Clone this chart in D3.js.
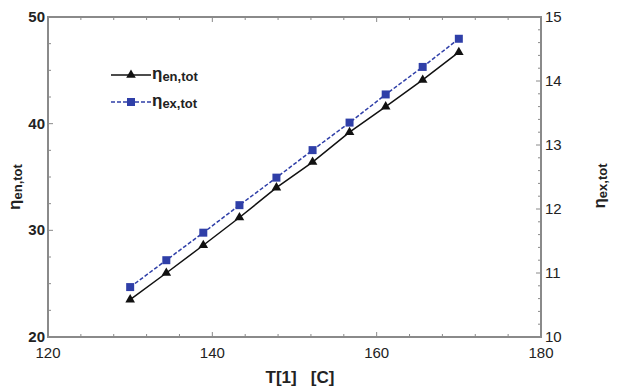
<!DOCTYPE html>
<html>
<head>
<meta charset="utf-8">
<script src="https://cdn.jsdelivr.net/npm/d3@7"></script>
<style>
  body { margin: 0; background: #fff; }
  svg { font-family: "Liberation Sans", Arial, sans-serif; }
</style>
</head>
<body>
<div id="chart"></div>
<script>
// T[1] values and the two efficiency series
const temps = [130, 134.4, 138.9, 143.3, 147.8, 152.2, 156.7, 161.1, 165.6, 170];
const etaEn = [23.5, 26.0, 28.6, 31.2, 34.0, 36.4, 39.2, 41.6, 44.1, 46.7];
const etaEx = [10.78, 11.2, 11.63, 12.06, 12.49, 12.92, 13.35, 13.79, 14.22, 14.66];

const xTicks = [120, 140, 160, 180];
const yLeftTicks = [20, 30, 40, 50];
const yRightTicks = [10, 11, 12, 13, 14, 15];

const W = 617, H = 392;
const plot = { left: 48, right: 541, top: 17, bottom: 337 };
const axisColor = "#8a8a8a";
const blue = "#2f3fa8";

const svg = d3.select("#chart").append("svg")
  .attr("width", W).attr("height", H);

const x = d3.scaleLinear().domain([120, 180]).range([plot.left, plot.right]);
const yL = d3.scaleLinear().domain([20, 50]).range([plot.bottom, plot.top]);
const yR = d3.scaleLinear().domain([10, 15]).range([plot.bottom, plot.top]);

// minor ticks (inward) on all four sides
const g = svg.append("g").attr("stroke", axisColor).attr("stroke-width", 1);
d3.range(120, 180.1, 4).forEach(v => {
  const len = v % 20 === 0 ? 5 : 3;
  g.append("line").attr("x1", x(v)).attr("x2", x(v)).attr("y1", plot.bottom).attr("y2", plot.bottom - len);
  g.append("line").attr("x1", x(v)).attr("x2", x(v)).attr("y1", plot.top).attr("y2", plot.top + len);
});
d3.range(20, 50.1, 2.5).forEach(v => {
  const len = v % 10 === 0 ? 5 : 3;
  g.append("line").attr("x1", plot.left).attr("x2", plot.left + len).attr("y1", yL(v)).attr("y2", yL(v));
});
d3.range(10, 15.01, 0.2).forEach(v => {
  const len = Math.abs(v - Math.round(v)) < 1e-6 ? 5 : 3;
  g.append("line").attr("x1", plot.right).attr("x2", plot.right - len).attr("y1", yR(v)).attr("y2", yR(v));
});

// frame
svg.append("rect")
  .attr("x", plot.left).attr("y", plot.top)
  .attr("width", plot.right - plot.left).attr("height", plot.bottom - plot.top)
  .attr("fill", "none").attr("stroke", axisColor).attr("stroke-width", 2);

// tick labels
const tickSize = 15, tickFill = "#222";
svg.selectAll(".xt").data(xTicks).enter().append("text")
  .attr("x", d => x(d)).attr("y", plot.bottom + 21)
  .attr("text-anchor", "middle").attr("font-size", tickSize).attr("fill", tickFill)
  .text(d => d);
svg.selectAll(".ylt").data(yLeftTicks).enter().append("text")
  .attr("x", plot.left - 3).attr("y", d => yL(d) + 5)
  .attr("text-anchor", "end").attr("font-size", tickSize).attr("font-weight", 700).attr("fill", tickFill)
  .text(d => d);
svg.selectAll(".yrt").data(yRightTicks).enter().append("text")
  .attr("x", plot.right + 4).attr("y", d => yR(d) + 5)
  .attr("text-anchor", "start").attr("font-size", tickSize).attr("fill", tickFill)
  .text(d => d);

// axis titles
svg.append("text")
  .attr("x", 300).attr("y", 383)
  .attr("text-anchor", "middle").attr("font-size", 17).attr("font-weight", 700).attr("fill", "#222")
  .attr("xml:space", "preserve")
  .text("T[1]   [C]");

function etaLabel(sel, sub) {
  sel.append("tspan").attr("font-size", 17).text("η");
  sel.append("tspan").attr("font-size", 13).attr("dy", 2).text(sub);
}

svg.append("text")
  .attr("transform", "translate(20,187) rotate(-90)")
  .attr("text-anchor", "middle").attr("font-weight", 700).attr("fill", "#222")
  .call(etaLabel, "en,tot");
svg.append("text")
  .attr("transform", "translate(605,186) rotate(-90)")
  .attr("text-anchor", "middle").attr("font-weight", 700).attr("fill", "#222")
  .call(etaLabel, "ex,tot");

// series
const pts = temps.map((t, i) => ({ t, en: etaEn[i], ex: etaEx[i] }));

svg.append("path").datum(pts)
  .attr("fill", "none").attr("stroke", blue).attr("stroke-width", 1.5)
  .attr("stroke-dasharray", "4,2")
  .attr("d", d3.line().x(d => x(d.t)).y(d => yR(d.ex)));
svg.append("path").datum(pts)
  .attr("fill", "none").attr("stroke", "#111").attr("stroke-width", 1.5)
  .attr("d", d3.line().x(d => x(d.t)).y(d => yL(d.en)));

const tri = d3.symbol().type(d3.symbolTriangle).size(40);
const sq = d3.symbol().type(d3.symbolSquare).size(64);

svg.selectAll(".tri").data(pts).enter().append("path")
  .attr("transform", d => `translate(${x(d.t)},${yL(d.en)})`)
  .attr("d", tri).attr("fill", "#111");
svg.selectAll(".sq").data(pts).enter().append("path")
  .attr("transform", d => `translate(${x(d.t)},${yR(d.ex)})`)
  .attr("d", sq).attr("fill", blue);

// legend
const leg = svg.append("g");
const rows = [
  { y: 75, sub: "en,tot", color: "#111", dash: null, sym: tri },
  { y: 102, sub: "ex,tot", color: blue, dash: "4,2", sym: sq }
];
rows.forEach(r => {
  leg.append("line").attr("x1", 111).attr("x2", 151).attr("y1", r.y).attr("y2", r.y)
    .attr("stroke", r.color).attr("stroke-width", 1.5).attr("stroke-dasharray", r.dash);
  leg.append("path").attr("transform", `translate(131,${r.y})`).attr("d", r.sym).attr("fill", r.color);
  leg.append("text").attr("x", 152).attr("y", r.y + 4)
    .attr("font-weight", 700).attr("fill", "#222")
    .call(etaLabel, r.sub);
});
</script>
</body>
</html>
